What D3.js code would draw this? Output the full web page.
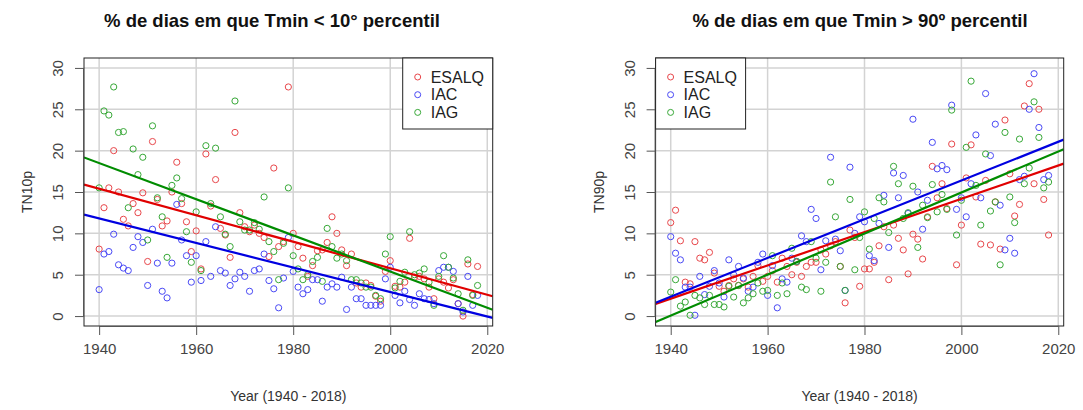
<!DOCTYPE html>
<html>
<head>
<meta charset="utf-8">
<script src="https://cdn.jsdelivr.net/npm/d3@7"></script>
<style>
	body { margin: 0; background: #fff; }
	svg { display: block; font-family: "Liberation Sans", Arial, sans-serif; }
</style>
</head>
<body>
<div id="app"></div>
<script>
// years of the series, 1940 - 2018
const years = d3.range(1940, 2019);

// % of days Tmin < 10th percentile (TN10p)
const tn10Esalq = [8.1, 13.1, 15.5, 20.0, 15.0, 11.7, 10.9, 13.6, 12.5, 14.9,
	6.6, 21.1, 14.1, 10.9, 11.5, 15.0, 18.6, 13.6, 11.4, 7.8,
	10.3, 5.7, 19.6, 13.3, 16.5, 10.6, 9.8, 7.1, 22.2, 12.5,
	10.8, 10.2, 11.0, 10.0, 9.5, 7.2, 17.9, 8.4, 9.0, 27.7,
	10.0, 8.4, 7.0, 4.8, 6.1, 7.9, 8.0, 8.9, 12.0, 10.0,
	8.0, 6.1, 7.5, 4.0, 3.5, 4.0, 3.7, 2.4, 1.8, 5.4,
	6.7, 3.6, 3.5, 4.1, 9.4, 4.7, 4.8, 4.5, 3.5, 2.1,
	4.5, 4.1, 3.4, 4.4, 1.5, 0.0, 6.3, 2.6, 6.0];
const tn10Iac = [3.2, 7.5, 7.8, 9.9, 6.2, 5.8, 5.5, 8.3, 9.6, 8.9,
	3.7, 10.5, 6.4, 3.0, 2.2, 6.4, 13.5, 9.2, 7.3, 4.1,
	7.3, 4.3, 9.0, 4.8, 10.8, 5.5, 5.2, 3.7, 4.5, 5.3,
	4.8, 3.0, 5.5, 5.7, 7.5, 4.3, 3.3, 1.0, 4.6, 9.5,
	5.4, 3.5, 2.7, 3.2, 4.4, 4.4, 1.8, 3.5, 3.9, 3.5,
	4.7, 0.8, 3.5, 2.1, 2.1, 1.3, 1.3, 1.3, 1.3, 4.5,
	5.9, 2.5, 1.6, 3.0, 2.0, 1.3, 2.7, 2.1, 2.0, 1.5,
	5.5, 5.9, 5.9, 5.4, 1.5, 0.5, 4.8, 1.3, 2.5];
const tn10Iag = [15.5, 24.8, 24.3, 27.7, 22.2, 22.3, 13.1, 20.2, 17.1, 19.2,
	9.2, 23.0, 14.3, 12.0, 7.1, 15.8, 16.7, 14.2, 10.2, 6.5,
	12.6, 5.5, 20.6, 13.6, 20.3, 12.0, 9.9, 8.4, 26.0, 11.4,
	10.4, 10.4, 11.3, 10.5, 14.4, 9.0, 7.8, 4.4, 8.8, 15.5,
	7.3, 5.7, 4.4, 5.0, 6.6, 7.1, 4.2, 10.6, 8.4, 7.0,
	7.5, 6.7, 4.4, 4.4, 4.0, 3.5, 3.5, 2.5, 2.1, 7.5,
	9.6, 3.4, 4.2, 5.3, 10.2, 5.0, 5.2, 5.7, 4.1, 1.3,
	4.8, 7.3, 5.9, 4.6, 2.7, 0.7, 6.8, 2.5, 3.7];
// trend line values at 1940 and 2018 (ESALQ, IAC, IAG)
const tn10Trend = [[15.4, 2.9], [11.8, 0.25], [18.5, 1.45]];

// % of days Tmin > 90th percentile (TN90p)
const tn90Esalq = [11.3, 12.8, 9.1, 4.1, 3.9, 9.0, 7.0, 6.8, 7.7, 5.2,
	3.6, 3.0, 3.7, 4.5, 3.7, 4.5, 3.5, 4.8, 6.1, 4.2,
	4.8, 5.5, 4.1, 7.0, 6.0, 5.0, 6.5, 4.8, 6.0, 6.5,
	6.5, 8.0, 7.5, 8.5, 9.0, 6.0, 1.6, 10.4, 9.5, 3.6,
	5.7, 5.7, 6.5, 8.5, 10.8, 4.4, 11.0, 9.4, 8.0, 5.1,
	9.9, 9.3, 6.9, 12.0, 18.1, 14.3, 16.0, 13.0, 20.8, 6.2,
	11.0, 16.7, 20.7, 14.4, 8.7, 16.4, 8.6, 13.8, 8.1, 23.7,
	17.2, 12.1, 13.5, 25.4, 28.1, 16.0, 25.0, 14.1, 9.8];
const tn90Iac = [9.6, 7.6, 6.8, 3.5, 3.5, 0.1, 4.8, 2.6, 3.6, 5.5,
	4.0, 2.3, 6.8, 5.0, 6.0, 4.6, 3.0, 3.5, 6.5, 7.5,
	2.5, 6.1, 1.0, 4.5, 4.1, 7.0, 6.6, 9.7, 9.0, 12.9,
	11.8, 5.6, 9.1, 19.2, 9.3, 7.9, 3.1, 18.0, 10.0, 12.0,
	11.4, 7.3, 6.7, 11.2, 14.6, 8.3, 17.3, 14.3, 17.0, 12.4,
	23.8, 15.0, 10.5, 14.0, 21.0, 17.8, 18.2, 17.7, 25.5, 12.9,
	14.3, 12.0, 16.0, 21.9, 14.3, 26.9, 19.4, 23.2, 13.4, 8.0,
	9.4, 7.6, 16.5, 16.9, 25.0, 29.3, 22.8, 16.5, 17.0];
const tn90Iag = [2.9, 4.4, 1.2, 1.7, 0.1, 2.5, 2.2, 1.4, 2.5, 1.4,
	1.4, 1.1, 3.6, 2.3, 3.7, 1.6, 2.2, 2.7, 4.0, 3.0,
	3.1, 7.3, 2.5, 4.0, 2.7, 8.2, 6.6, 3.5, 3.2, 9.0,
	7.0, 3.0, 6.5, 16.2, 12.0, 6.0, 3.1, 14.1, 5.6, 9.5,
	12.6, 8.1, 11.8, 14.3, 13.8, 10.1, 18.1, 16.0, 11.8, 12.5,
	15.7, 8.3, 13.4, 11.9, 15.9, 12.6, 14.7, 12.9, 24.9, 9.8,
	14.0, 20.4, 28.4, 15.8, 11.0, 19.6, 12.7, 13.8, 6.2, 22.2,
	14.4, 11.3, 21.4, 16.0, 17.9, 25.9, 21.6, 15.5, 16.2];
const tn90Trend = [[2.1, 17.8], [2.35, 20.6], [0.05, 19.4]];

const stations = ['ESALQ', 'IAC', 'IAG'];
const xTicks = [1940, 1960, 1980, 2000, 2020];
const yTicks = [0, 5, 10, 15, 20, 25, 30];

const pointColors = ['#e8474b', '#4949f5', '#37a837'];
const lineColors = ['#e00000', '#0000e0', '#008c00'];

const W = 1083, H = 410;
const svg = d3.select('#app').append('svg')
	.attr('width', W)
	.attr('height', H);

const drawPanel = (opts) => {
	const { left, right, top, bottom, title, titleX, yLabel, series, trends, legendLeft, id } = opts;

	// R style axes: data range padded by 4%
	const xScale = d3.scaleLinear()
		.domain([1940 - 0.04 * 78, 2018 + 0.04 * 78])
		.range([left, right]);
	const yScale = d3.scaleLinear()
		.domain([0 - 0.04 * 30, 30 + 0.04 * 30])
		.range([bottom, top]);

	const g = svg.append('g');

	svg.append('clipPath').attr('id', id)
		.append('rect')
		.attr('x', left).attr('y', top)
		.attr('width', right - left).attr('height', bottom - top);

	// grid
	g.selectAll('.vgrid').data(xTicks).enter().append('line')
		.attr('x1', d => xScale(d)).attr('x2', d => xScale(d))
		.attr('y1', top).attr('y2', bottom)
		.attr('stroke', '#d3d3d3').attr('stroke-width', 1.5);
	g.selectAll('.hgrid').data(yTicks).enter().append('line')
		.attr('x1', left).attr('x2', right)
		.attr('y1', d => yScale(d)).attr('y2', d => yScale(d))
		.attr('stroke', '#d3d3d3').attr('stroke-width', 1.5);

	// points
	const plot = g.append('g').attr('clip-path', `url(#${id})`);
	series.forEach((vals, k) => {
		plot.append('g').selectAll('circle')
			.data(vals).enter().append('circle')
			.attr('cx', (d, i) => xScale(years[i]))
			.attr('cy', d => yScale(d))
			.attr('r', 3.1)
			.attr('fill', 'none')
			.attr('stroke', pointColors[k])
			.attr('stroke-width', 1);
	});

	// trend lines, extended over the whole plot like abline()
	trends.forEach((t, k) => {
		const trend = d3.scaleLinear().domain([1940, 2018]).range(t);
		const [d0, d1] = xScale.domain();
		plot.append('line')
			.attr('x1', xScale(d0)).attr('y1', yScale(trend(d0)))
			.attr('x2', xScale(d1)).attr('y2', yScale(trend(d1)))
			.attr('stroke', lineColors[k])
			.attr('stroke-width', 2.2);
	});

	// box
	g.append('rect')
		.attr('x', left).attr('y', top)
		.attr('width', right - left).attr('height', bottom - top)
		.attr('fill', 'none').attr('stroke', '#222').attr('stroke-width', 1);

	// axes
	const xAxis = d3.axisBottom(xScale).tickValues(xTicks).tickFormat(d3.format('d')).tickSize(9).tickSizeOuter(0);
	const xg = g.append('g').attr('transform', `translate(0,${bottom})`).call(xAxis);
	xg.select('.domain').attr('stroke', '#555').attr('d', `M${xScale(1940)},0.5H${xScale(2020)}`);
	xg.selectAll('.tick line').attr('stroke', '#555');
	xg.selectAll('.tick text').attr('font-size', 15).attr('fill', '#444').attr('dy', '1.05em').attr('font-family', 'Liberation Sans, Arial, sans-serif');

	const yAxis = d3.axisLeft(yScale).tickValues(yTicks).tickSize(9).tickSizeOuter(0);
	const yg = g.append('g').attr('transform', `translate(${left},0)`).call(yAxis);
	yg.select('.domain').attr('stroke', '#555').attr('d', `M-0.5,${yScale(0)}V${yScale(30)}`);
	yg.selectAll('.tick line').attr('stroke', '#555');
	yg.selectAll('.tick text')
		.attr('font-size', 15).attr('fill', '#444')
		.attr('font-family', 'Liberation Sans, Arial, sans-serif')
		.attr('x', 0).attr('dy', 0)
		.attr('text-anchor', 'middle')
		.attr('transform', 'translate(-21,0) rotate(-90)');

	// titles
	svg.append('text')
		.attr('x', titleX).attr('y', 27)
		.attr('text-anchor', 'middle')
		.attr('font-size', 18.5).attr('font-weight', 'bold').attr('fill', '#111')
		.text(title);
	svg.append('text')
		.attr('x', (left + right) / 2).attr('y', 401)
		.attr('text-anchor', 'middle')
		.attr('font-size', 14).attr('fill', '#333')
		.text('Year (1940 - 2018)');
	svg.append('text')
		.attr('transform', `translate(${left - 52},${(top + bottom) / 2}) rotate(-90)`)
		.attr('text-anchor', 'middle')
		.attr('font-size', 14).attr('fill', '#333')
		.text(yLabel);

	// legend
	const lg = svg.append('g');
	const lw = 90, lh = 71;
	const lx = legendLeft ? left : right - lw;
	lg.append('rect')
		.attr('x', lx).attr('y', top)
		.attr('width', lw).attr('height', lh)
		.attr('fill', '#fff').attr('stroke', '#222').attr('stroke-width', 1);
	stations.forEach((s, k) => {
		const cy = top + 19 + k * 17.7;
		lg.append('circle')
			.attr('cx', lx + 15).attr('cy', cy).attr('r', 3)
			.attr('fill', 'none').attr('stroke', pointColors[k]).attr('stroke-width', 1);
		lg.append('text')
			.attr('x', lx + 28).attr('y', cy + 5.5)
			.attr('font-size', 16).attr('fill', '#222')
			.text(s);
	});
};

drawPanel({
	id: 'clipA',
	left: 84, right: 492.7, top: 58, bottom: 326,
	title: '% de dias em que Tmin < 10° percentil',
	titleX: 272,
	yLabel: 'TN10p',
	series: [tn10Esalq, tn10Iac, tn10Iag],
	trends: tn10Trend,
	legendLeft: false
});

drawPanel({
	id: 'clipB',
	left: 655.6, right: 1063.7, top: 58, bottom: 326,
	title: '% de dias em que Tmin > 90º percentil',
	titleX: 860,
	yLabel: 'TN90p',
	series: [tn90Esalq, tn90Iac, tn90Iag],
	trends: tn90Trend,
	legendLeft: true
});
</script>
</body>
</html>
